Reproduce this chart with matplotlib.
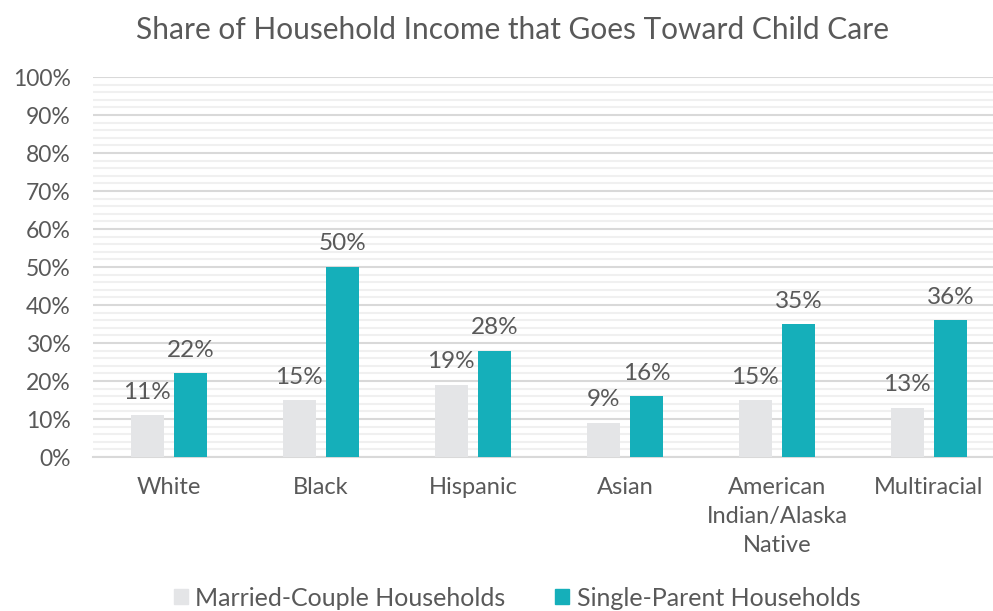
import matplotlib
matplotlib.use("Agg")
import matplotlib.pyplot as plt
import numpy as np
from matplotlib.ticker import MultipleLocator, FuncFormatter
from matplotlib.patches import Patch

categories = ["White", "Black", "Hispanic", "Asian", "American\nIndian/Alaska\nNative", "Multiracial"]
married = [11, 15, 19, 9, 15, 13]
single = [22, 50, 28, 16, 35, 36]
series_names = ["Married-Couple Households", "Single-Parent Households"]

plt.rcParams['font.family'] = ['Lato', 'DejaVu Sans']
txt = '#595959'
c_married = '#E4E5E7'
c_single = '#15AFBA'

fig = plt.figure(figsize=(9.93, 6.11), dpi=100)
W, H = 993, 611
left, right = 93, 1005
top, bottom = 77, 457
ax = fig.add_axes([left / W, 1 - bottom / H, (right - left) / W, (bottom - top) / H])

x = np.arange(len(categories))
bw = 0.22
off = 0.143
b1 = ax.bar(x - off, married, bw, color=c_married, zorder=3)
b2 = ax.bar(x + off, single, bw, color=c_single, zorder=3)

for bars, vals in ((b1, married), (b2, single)):
    for r, v in zip(bars, vals):
        ax.annotate(f"{v}%", (r.get_x() + r.get_width() / 2, v), xytext=(0, 9),
                    textcoords='offset points', ha='center', va='bottom',
                    fontsize=17.5, color=txt, zorder=4)

ax.set_xlim(-0.5, len(categories) - 0.5)
ax.set_ylim(0, 100)
ax.yaxis.set_major_locator(MultipleLocator(10))
ax.yaxis.set_minor_locator(MultipleLocator(2))
ax.yaxis.set_major_formatter(FuncFormatter(lambda v, p: f"{int(round(v))}%"))
ax.grid(axis='y', which='major', color='#D9D9D9', lw=1.5, zorder=0)
ax.grid(axis='y', which='minor', color='#F0F0F0', lw=1.5, zorder=0)
ax.set_axisbelow(True)
for s in ['top', 'right', 'left']:
    ax.spines[s].set_visible(False)
ax.spines['bottom'].set_color('#D9D9D9')
ax.spines['bottom'].set_linewidth(1.5)
ax.tick_params(axis='both', which='both', length=0, colors=txt)
ax.tick_params(axis='y', labelsize=16.5, pad=16)
ax.tick_params(axis='x', labelsize=17, pad=14.5)
ax.set_xticks(x)
ax.set_xticklabels(categories, linespacing=1.48)

fig.text(512 / W, 1 - 30 / H, "Share of Household Income that Goes Toward Child Care",
         ha='center', va='center', fontsize=21.5, color=txt)

handles = [Patch(color=c_married, label=series_names[0]), Patch(color=c_single, label=series_names[1])]
fig.legend(handles=handles, loc='center', bbox_to_anchor=(517 / W, 1 - 598 / H), ncol=2,
           frameon=False, fontsize=18, labelcolor=txt, handlelength=0.55, handleheight=0.55,
           handletextpad=0.3, columnspacing=2.0, borderpad=0)

fig.savefig("out.png", dpi=100)
